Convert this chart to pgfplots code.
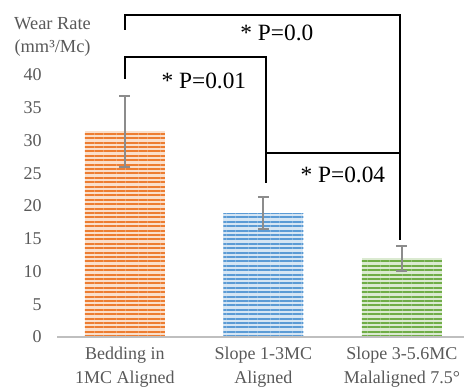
\documentclass[border=0pt]{standalone}
\usepackage{fontspec}
\setmainfont{LiberationSerif}[Extension=.ttf, UprightFont=*-Regular, BoldFont=*-Bold, ItalicFont=*-Italic, BoldItalicFont=*-BoldItalic]
\usepackage{pgfplots}
\pgfplotsset{compat=1.18}
\usetikzlibrary{patterns.meta}
\definecolor{oc}{HTML}{ED7D31}
\definecolor{bc}{HTML}{5B9BD5}
\definecolor{gc}{HTML}{70AD47}
\definecolor{tc}{HTML}{595959}
\definecolor{ac}{HTML}{BFBFBF}
\definecolor{ec}{HTML}{8C8C8C}
\begin{document}
\begin{tikzpicture}
\begin{axis}[
  scale only axis, width=305.2pt, height=252.75pt,
  xmin=-0.49, xmax=2.448, ymin=0, ymax=51.45,
  axis line style={draw=none},
  major tick length=0pt,
  ytick={0,5,...,40},
  xtick={0,1,2},
  xticklabels={{Bedding in\\1MC Aligned},{Slope 1-3MC\\Aligned},{Slope 3-5.6MC\\Malaligned 7.5°}},
  xticklabel style={align=center, font=\rmfamily\fontsize{13.5}{18}\selectfont, text=tc, yshift=-4pt},
  yticklabel style={font=\rmfamily\fontsize{13.5}{16}\selectfont, text=tc, xshift=-8pt},
  /pgf/number format/assume math mode=true,
  clip=false,
  ybar, bar width=60pt,
  error bars/y dir=both, error bars/y explicit,
  error bars/error bar style={ec, line width=1.5pt},
  error bars/error mark options={ec, rotate=90, mark size=4.1pt, line width=1.5pt},
]
\addplot[bar shift=0pt, draw=none, fill=oc!25, postaction={pattern={Lines[angle=0,distance=3.3pt,line width=1.6pt]}, pattern color=oc}]
  coordinates {(0,31.4) +- (0,5.4)};
\addplot[bar shift=0pt, draw=none, fill=bc!25, postaction={pattern={Lines[angle=0,distance=3.3pt,line width=1.6pt]}, pattern color=bc}]
  coordinates {(1,18.9) +- (0,2.4)};
\addplot[bar shift=0pt, draw=none, fill=gc!25, postaction={pattern={Lines[angle=0,distance=3.3pt,line width=1.6pt]}, pattern color=gc}]
  coordinates {(2,12.0) +- (0,1.9)};
\draw[ac, line width=1.5pt] (rel axis cs:0,0) -- (rel axis cs:1,0);
\draw[black, line width=1.3pt] (axis cs:0,46.9) |- (axis cs:1.985,49.2) -- (axis cs:1.985,14.8);
\draw[black, line width=1.3pt] (axis cs:0,39.4) |- (axis cs:1.02,42.7) -- (axis cs:1.02,23.5);
\draw[black, line width=1.3pt] (axis cs:1.02,28.1) -- (axis cs:1.985,28.1);
\node[font=\rmfamily\fontsize{17.5}{20}\selectfont] at (axis cs:1.097,46.4) {* P=0.0};
\node[font=\rmfamily\fontsize{17.5}{20}\selectfont] at (axis cs:0.57,39.1) {* P=0.01};
\node[font=\rmfamily\fontsize{17.5}{20}\selectfont] at (axis cs:1.574,24.7) {* P=0.04};
\node[align=center, text=tc, font=\rmfamily\fontsize{13.8}{17}\selectfont] at (axis cs:-0.523,45.8) {Wear Rate\\(mm³/Mc)};
\coordinate (ll) at (rel axis cs:0,0);
\coordinate (ur) at (rel axis cs:1,1);
\end{axis}
\pgfresetboundingbox
\path ([xshift=-42.83pt, yshift=-39pt]ll) rectangle (ur);
\end{tikzpicture}
\end{document}
